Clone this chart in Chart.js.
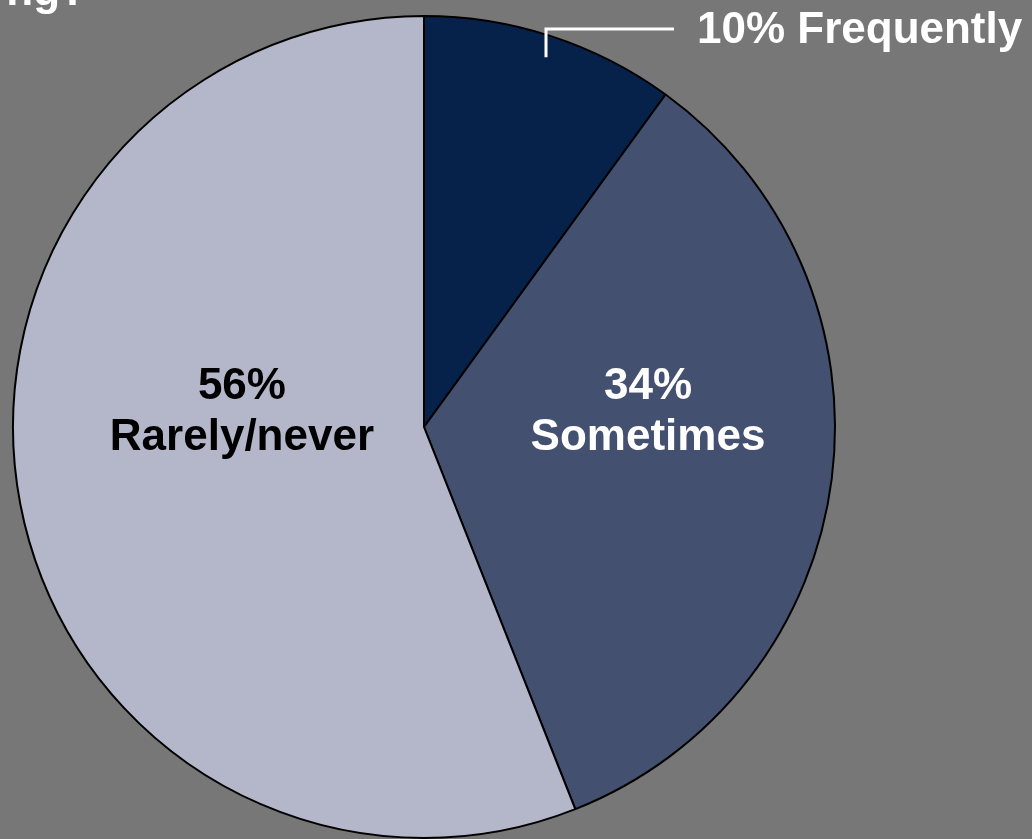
<!DOCTYPE html>
<html lang="en">
<head>
    <meta charset="UTF-8">
    <title>Frequency pie</title>
    <script src="https://cdn.jsdelivr.net/npm/chart.js@4.4.1/dist/chart.umd.min.js"></script>
    <style>
        html, body { margin: 0; padding: 0; background: #777777; overflow: hidden; }
        #wrap { width: 1032px; height: 839px; }
    </style>
</head>
<body>
<div id="wrap">
    <canvas id="myChart" width="1032" height="839"></canvas>
</div>

<script>
    // Data
    const categories = ['Frequently', 'Sometimes', 'Rarely/never'];
    const shares = [10, 34, 56];
    const sliceColors = ['#06214A', '#44506F', '#B4B7C9'];
    const textColors = ['#ffffff', '#ffffff', '#000000'];

    const FONT = 'bold 44px "Liberation Sans", Arial, sans-serif';

    // labels inside the slices, placed relative to the pie centre (in radius units)
    const innerSpots = {
        1: {dx: 0.545, line1: -0.068, line2: 0.056},
        2: {dx: -0.443, line1: -0.068, line2: 0.056}
    };

    const labelPlugin = {
        id: 'sliceLabels',
        afterDraw(chart) {
            const ctx = chart.ctx;
            const arcs = chart.getDatasetMeta(0).data;
            const cx = arcs[0].x, cy = arcs[0].y, r = arcs[0].outerRadius;
            ctx.save();
            ctx.font = FONT;
            ctx.textBaseline = 'alphabetic';

            // heading text running off the top edge
            ctx.fillStyle = '#ffffff';
            ctx.textAlign = 'right';
            ctx.fillText('ng?', 87, 5);

            // two-line labels
            ctx.textAlign = 'center';
            Object.keys(innerSpots).forEach(i => {
                const s = innerSpots[i];
                ctx.fillStyle = textColors[i];
                ctx.fillText(shares[i] + '%', cx + s.dx * r, cy + s.line1 * r);
                ctx.fillText(categories[i], cx + s.dx * r, cy + s.line2 * r);
            });

            // callout for the small slice
            const a = arcs[0];
            const mid = (a.startAngle + a.endAngle) / 2;
            const bx = Math.round(cx + Math.cos(mid) * r * 0.96);
            const by = cy + Math.sin(mid) * r * 0.946;
            ctx.strokeStyle = '#ffffff';
            ctx.lineWidth = 3;
            ctx.beginPath();
            ctx.moveTo(bx, by);
            ctx.lineTo(bx, 29);
            ctx.lineTo(674, 29);
            ctx.stroke();
            ctx.fillStyle = textColors[0];
            ctx.textAlign = 'left';
            ctx.fillText(shares[0] + '% ' + categories[0], 697, 43);
            ctx.restore();
        }
    };

    new Chart(document.getElementById('myChart'), {
        type: 'pie',
        data: {
            labels: categories,
            datasets: [{
                data: shares,
                backgroundColor: sliceColors,
                borderColor: '#000000',
                borderWidth: 2
            }]
        },
        options: {
            responsive: false,
            animation: false,
            layout: {padding: {left: 0, right: 184, top: 15, bottom: 0}},
            plugins: {
                legend: {display: false},
                tooltip: {enabled: false}
            }
        },
        plugins: [labelPlugin]
    });
</script>
</body>
</html>
